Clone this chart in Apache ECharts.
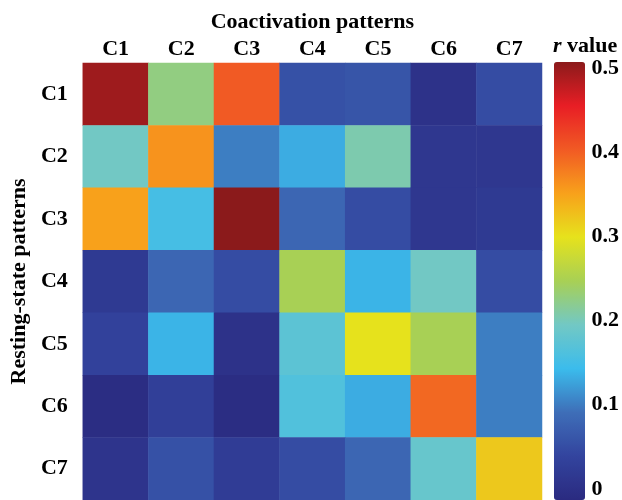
<!DOCTYPE html>
<html>
<head>
<meta charset="utf-8">
<script src="https://cdn.jsdelivr.net/npm/echarts@6/dist/echarts.min.js"></script>
<style>
  html, body { margin: 0; padding: 0; background: #fff; }
  #chart { width: 622px; height: 500px; }
</style>
</head>
<body>
<div id="chart"></div>
<script>
// axis categories
var coactLabels = ['C1', 'C2', 'C3', 'C4', 'C5', 'C6', 'C7']
var restLabels = ['C1', 'C2', 'C3', 'C4', 'C5', 'C6', 'C7']
// r values, one row per resting-state pattern
var rowC1 = [0.49, 0.23, 0.40, 0.065, 0.07, 0.015, 0.06]
var rowC2 = [0.20, 0.36, 0.11, 0.14, 0.21, 0.025, 0.025]
var rowC3 = [0.35, 0.16, 0.50, 0.09, 0.06, 0.025, 0.03]
var rowC4 = [0.03, 0.09, 0.06, 0.25, 0.145, 0.20, 0.06]
var rowC5 = [0.045, 0.145, 0.015, 0.18, 0.30, 0.25, 0.11]
var rowC6 = [0.005, 0.04, 0.005, 0.17, 0.14, 0.39, 0.11]
var rowC7 = [0.02, 0.065, 0.035, 0.06, 0.09, 0.19, 0.32]
var rows = [rowC1, rowC2, rowC3, rowC4, rowC5, rowC6, rowC7]
// colour bar ticks
var barTicks = [0, 0.1, 0.2, 0.3, 0.4, 0.5]
// jet-like palette, evenly spaced from 0 to 0.5
var jetColors = ['#2a2a80', '#33449e', '#3e6eb8', '#3bbcec', '#72c8c4', '#a8d055',
  '#e6e21c', '#f8a11b', '#f15a24', '#e81e25', '#8b1a1b']

var font = 'Liberation Serif'
var labelStyle = { fontFamily: font, fontSize: 22, fontWeight: 'bold', color: '#000' }
var heatData = []
rows.forEach(function (row, y) {
  row.forEach(function (v, x) {
    heatData.push([x, y, v])
  })
})

var chart = echarts.init(document.getElementById('chart'))
var option = {
  animation: false,
  textStyle: { fontFamily: font },
  title: {
    text: '{i|r} value',
    left: 553,
    top: 35,
    padding: 0,
    textStyle: {
      fontFamily: font,
      fontSize: 22,
      fontWeight: 'bold',
      color: '#000',
      rich: {
        i: { fontFamily: font, fontSize: 22, fontWeight: 'bold', fontStyle: 'italic', color: '#000' }
      }
    }
  },
  grid: [
    { left: 80, top: 63, width: 462, height: 437 },
    { left: 554, top: 68, width: 31, height: 425 }
  ],
  xAxis: [
    {
      type: 'category',
      gridIndex: 0,
      position: 'top',
      data: coactLabels,
      name: 'Coactivation patterns',
      nameLocation: 'middle',
      nameGap: 28,
      nameTextStyle: labelStyle,
      axisLine: { show: false },
      axisTick: { show: false },
      axisLabel: Object.assign({ margin: 3 }, labelStyle),
      splitArea: { show: false }
    },
    {
      type: 'value',
      gridIndex: 1,
      show: false
    }
  ],
  yAxis: [
    {
      type: 'category',
      gridIndex: 0,
      inverse: true,
      data: restLabels,
      name: 'Resting-state patterns',
      nameLocation: 'middle',
      nameGap: 49,
      nameTextStyle: labelStyle,
      axisLine: { show: false },
      axisTick: { show: false },
      axisLabel: Object.assign({ margin: 15 }, labelStyle)
    },
    {
      type: 'value',
      gridIndex: 1,
      position: 'right',
      min: 0,
      max: 0.5,
      interval: 0.1,
      axisLine: { show: false },
      axisTick: { show: false },
      splitLine: { show: false },
      axisLabel: Object.assign({
        margin: 10,
        formatter: function (v) {
          var r = Math.round(v * 10) / 10
          return barTicks.indexOf(r) >= 0 ? String(r) : ''
        }
      }, labelStyle)
    }
  ],
  visualMap: {
    type: 'continuous',
    seriesIndex: 0,
    min: 0,
    max: 0.5,
    calculable: false,
    orient: 'vertical',
    left: 554,
    top: 62,
    padding: 0,
    itemWidth: 31,
    itemHeight: 438,
    text: null,
    showLabel: false,
    inRange: { color: jetColors }
  },
  series: [
    {
      type: 'heatmap',
      xAxisIndex: 0,
      yAxisIndex: 0,
      data: heatData,
      itemStyle: { borderWidth: 0 },
      emphasis: { disabled: true }
    }
  ]
}
chart.setOption(option)
</script>
</body>
</html>
